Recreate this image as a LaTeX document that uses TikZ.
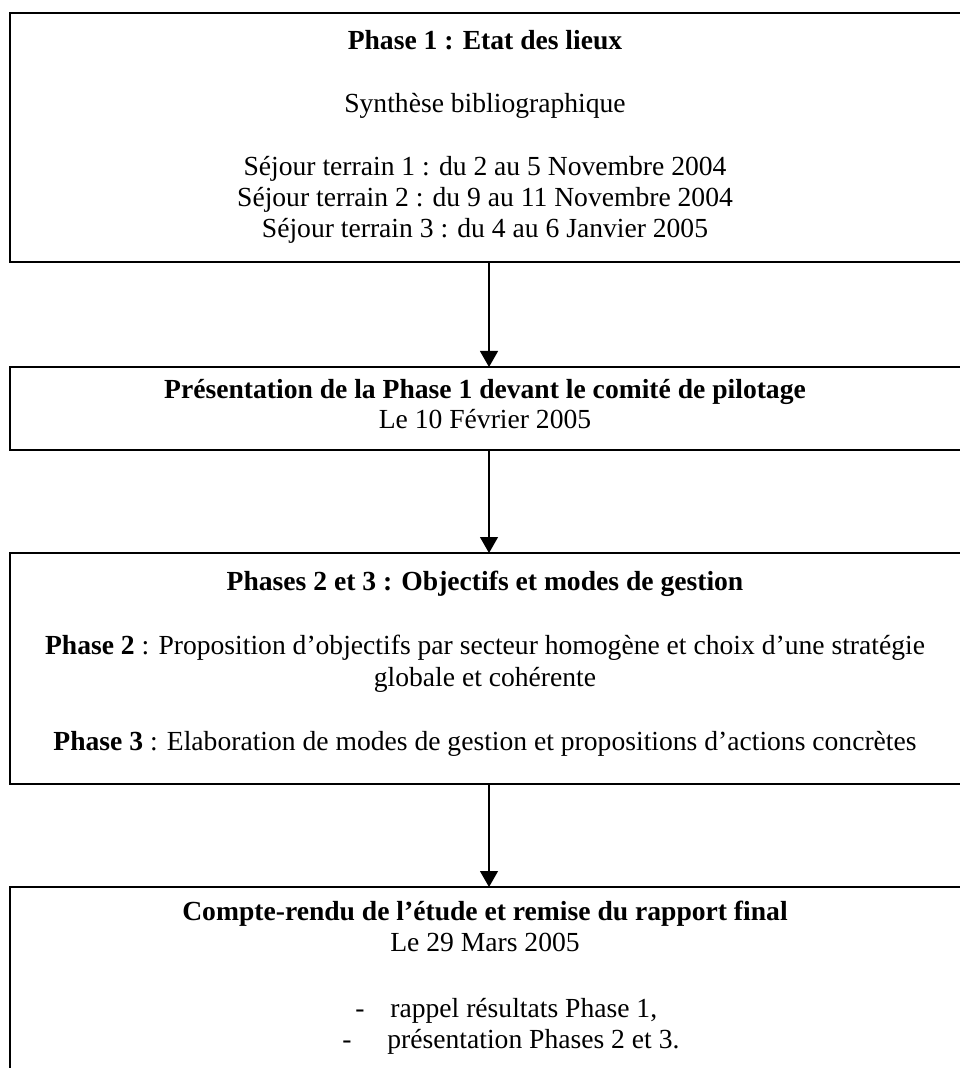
\documentclass[tikz,border=0pt]{standalone}
\usepackage{fontspec}
\setmainfont{Liberation Serif}
\usetikzlibrary{arrows.meta}
\tikzset{
  box/.style={draw, line width=0.7pt, rectangle, inner sep=0pt, outer sep=0pt, minimum width=475.5pt},
  arr/.style={line width=0.55pt, -{Triangle[width=9pt,length=8pt]}},
  txt/.style={anchor=base, inner sep=0pt, font=\fontsize{13.8}{15}\selectfont},
  txtw/.style={anchor=base west, inner sep=0pt, font=\fontsize{13.8}{15}\selectfont}
}
\begin{document}
\begin{tikzpicture}[x=0.5pt,y=-0.5pt]
\useasboundingbox (0,0) rectangle (959,1068);
% boxes
\node[box, minimum height=124.5pt] (b1) at (485.5,137.5) {};
\node[box, minimum height=41.5pt] (b2) at (485.5,408.5) {};
\node[box, minimum height=115.5pt] (b3) at (485.5,668.5) {};
\node[box, minimum height=101.5pt] (b4) at (485.5,988.5) {};
% box 1 texts
\node[txt] (t1a) at (485,50) {\textbf{Phase 1 : Etat des lieux}};
\node[txt] (t1b) at (485,113) {Synthèse bibliographique};
\node[txt] (t1c) at (485,176) {Séjour terrain 1 : du 2 au 5 Novembre 2004};
\node[txt] (t1d) at (485,207) {Séjour terrain 2 : du 9 au 11 Novembre 2004};
\node[txt] (t1e) at (485,238) {Séjour terrain 3 : du 4 au 6 Janvier 2005};
% box 2 texts
\node[txt] (t2a) at (485,399) {\textbf{Présentation de la Phase 1 devant le comité de pilotage}};
\node[txt] (t2b) at (485,429) {Le 10 Février 2005};
% box 3 texts
\node[txt] (t3a) at (485,590) {\textbf{Phases 2 et 3 : Objectifs et modes de gestion}};
\node[txt] (t3b) at (485,654) {\textbf{Phase 2} : Proposition d’objectifs par secteur homogène et choix d’une stratégie};
\node[txt] (t3c) at (485,686) {globale et cohérente};
\node[txt] (t3d) at (485,750) {\textbf{Phase 3} : Elaboration de modes de gestion et propositions d’actions concrètes};
% box 4 texts
\node[txt] (t4a) at (485,920) {\textbf{Compte-rendu de l’étude et remise du rapport final}};
\node[txt] (t4b) at (485,951) {Le 29 Mars 2005};
\node[txt] (d1) at (360,1017) {-};
\node[txtw] (t4c) at (390,1017) {rappel résultats Phase 1,};
\node[txt] (d2) at (347,1048) {-};
\node[txtw] (t4d) at (387,1048) {présentation Phases 2 et 3.};
% arrows
\coordinate (ax) at (489,0);
\draw[arr] (b1.south -| ax) -- (b2.north -| ax);
\draw[arr] (b2.south -| ax) -- (b3.north -| ax);
\draw[arr] (b3.south -| ax) -- (b4.north -| ax);
\end{tikzpicture}
\end{document}
